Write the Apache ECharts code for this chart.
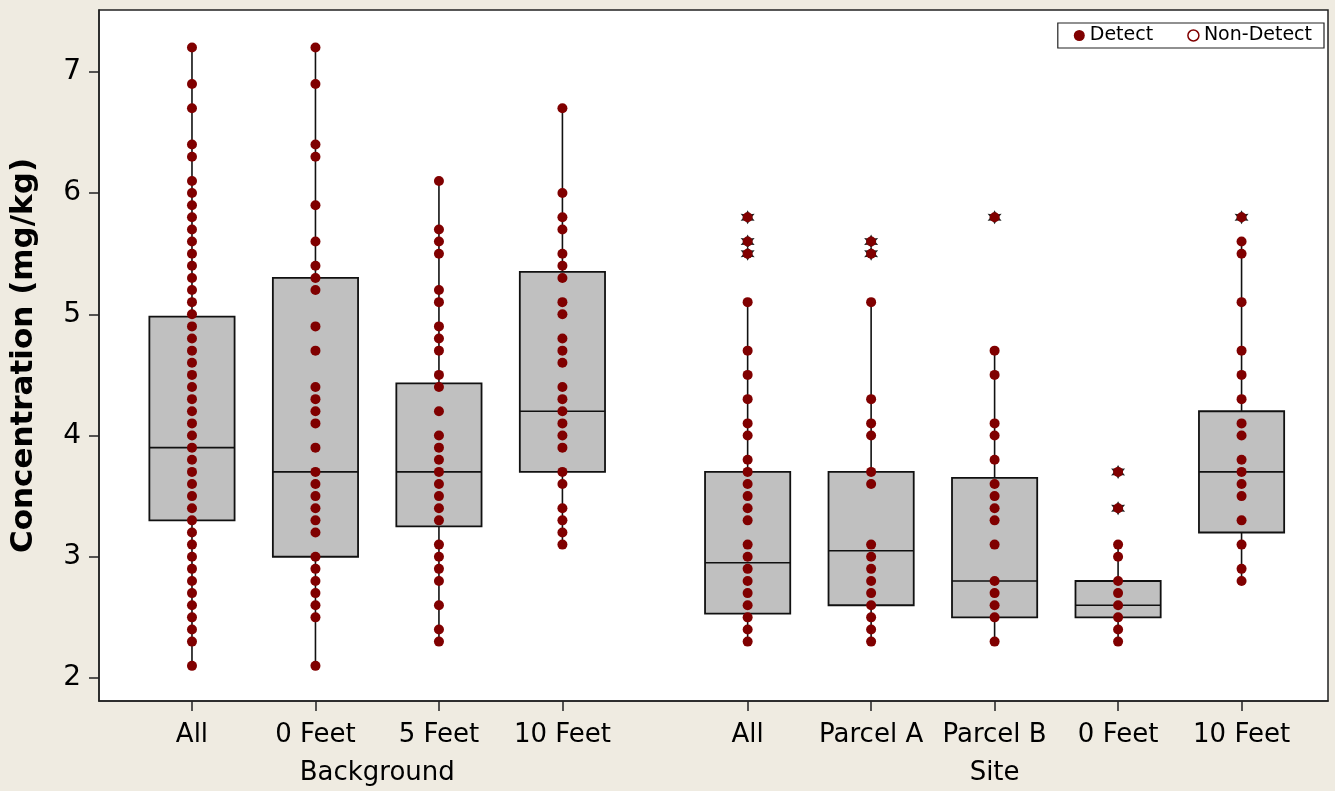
<!DOCTYPE html>
<html>
<head>
<meta charset="utf-8">
<title>Concentration box plot</title>
<script src="https://cdn.jsdelivr.net/npm/echarts@6/dist/echarts.min.js"></script>
<style>
  html, body { margin: 0; padding: 0; background: #efebe1; }
  #chart { width: 1335px; height: 791px; }
</style>
</head>
<body>
<div id="chart"></div>
<script>
// categories along the x axis and the two group titles
const categories = ["All", "0 Feet", "5 Feet", "10 Feet", "All", "Parcel A", "Parcel B", "0 Feet", "10 Feet"];
const groupNames = ["Background", "Site"];
const slots = [1, 2, 3, 4, 5.5, 6.5, 7.5, 8.5, 9.5];
const groupSlots = [2.5, 7.5];
const yTicks = [2, 3, 4, 5, 6, 7];

// detected values (dot plot) per category
const bgAll = [2.1, 2.3, 2.4, 2.5, 2.6, 2.7, 2.8, 2.9, 3.0, 3.1, 3.2, 3.3, 3.4, 3.5, 3.6, 3.7, 3.8, 3.9, 4.0, 4.1, 4.2, 4.3, 4.4, 4.5, 4.6, 4.7, 4.8, 4.9, 5.0, 5.1, 5.2, 5.3, 5.4, 5.5, 5.6, 5.7, 5.8, 5.9, 6.0, 6.1, 6.3, 6.4, 6.7, 6.9, 7.2];
const bg0 = [2.1, 2.5, 2.6, 2.7, 2.8, 2.9, 3.0, 3.2, 3.3, 3.4, 3.5, 3.6, 3.7, 3.9, 4.1, 4.2, 4.3, 4.4, 4.7, 4.9, 5.2, 5.3, 5.4, 5.6, 5.9, 6.3, 6.4, 6.9, 7.2];
const bg5 = [2.3, 2.4, 2.6, 2.8, 2.9, 3.0, 3.1, 3.3, 3.4, 3.5, 3.6, 3.7, 3.8, 3.9, 4.0, 4.2, 4.4, 4.5, 4.7, 4.8, 4.9, 5.1, 5.2, 5.5, 5.6, 5.7, 6.1];
const bg10 = [3.1, 3.2, 3.3, 3.4, 3.6, 3.7, 3.9, 4.0, 4.1, 4.2, 4.3, 4.4, 4.6, 4.7, 4.8, 5.0, 5.1, 5.3, 5.4, 5.5, 5.7, 5.8, 6.0, 6.7];
const siteAll = [2.3, 2.4, 2.5, 2.6, 2.7, 2.8, 2.9, 3.0, 3.1, 3.3, 3.4, 3.5, 3.6, 3.7, 3.8, 4.0, 4.1, 4.3, 4.5, 4.7, 5.1, 5.5, 5.6, 5.8];
const parcelA = [2.3, 2.4, 2.5, 2.6, 2.7, 2.8, 2.9, 3.0, 3.1, 3.6, 3.7, 4.0, 4.1, 4.3, 5.1, 5.5, 5.6];
const parcelB = [2.3, 2.5, 2.6, 2.7, 2.8, 3.1, 3.3, 3.4, 3.5, 3.6, 3.8, 4.0, 4.1, 4.5, 4.7, 5.8];
const site0 = [2.3, 2.4, 2.5, 2.6, 2.7, 2.8, 3.0, 3.1, 3.4, 3.7];
const site10 = [2.8, 2.9, 3.1, 3.3, 3.5, 3.6, 3.7, 3.8, 4.0, 4.1, 4.3, 4.5, 4.7, 5.1, 5.5, 5.6, 5.8];
const detects = [bgAll, bg0, bg5, bg10, siteAll, parcelA, parcelB, site0, site10];

// outliers (star marks) per category
const outliers = [[], [], [], [], [5.5, 5.6, 5.8], [5.5, 5.6], [5.8], [3.4, 3.7], [5.8]];

// box stats: [whisker low, Q1, median, Q3, whisker high]
const boxStats = [
  [2.1, 3.3, 3.9, 4.98, 7.2],
  [2.1, 3.0, 3.7, 5.3, 7.2],
  [2.3, 3.25, 3.7, 4.43, 6.1],
  [3.1, 3.7, 4.2, 5.35, 6.7],
  [2.3, 2.53, 2.95, 3.7, 5.1],
  [2.3, 2.6, 3.05, 3.7, 5.1],
  [2.3, 2.5, 2.8, 3.65, 4.7],
  [2.3, 2.5, 2.6, 2.8, 3.1],
  [2.8, 3.2, 3.7, 4.2, 5.6]
];

const RED = "#800000";
const FONT = "DejaVu Sans";
const STAR = "path://M0,-10 L2.6,-4.5 L8.7,-5 L5.2,0 L8.7,5 L2.6,4.5 L0,10 L-2.6,4.5 L-8.7,5 L-5.2,0 L-8.7,-5 L-2.6,-4.5 Z";

const slotIndex = (v, list) => list.findIndex((s) => Math.abs(s - v) < 1e-6);

const boxData = slots.map((s, i) => [s, ...boxStats[i]]);
const dotData = [];
detects.forEach((vals, i) => vals.forEach((v) => dotData.push([slots[i], v])));
const starData = [];
outliers.forEach((vals, i) => vals.forEach((v) => starData.push([slots[i], v])));

const renderBox = (params, api) => {
  const x = api.value(0);
  const pLow = api.coord([x, api.value(1)]);
  const pQ1 = api.coord([x, api.value(2)]);
  const pMed = api.coord([x, api.value(3)]);
  const pQ3 = api.coord([x, api.value(4)]);
  const pHigh = api.coord([x, api.value(5)]);
  const half = api.size([0.69, 0])[0] / 2;
  const line = { stroke: "#111", lineWidth: 1.6 };
  return {
    type: "group",
    children: [
      { type: "line", shape: { x1: pHigh[0], y1: pHigh[1], x2: pQ3[0], y2: pQ3[1] }, style: line },
      { type: "line", shape: { x1: pQ1[0], y1: pQ1[1], x2: pLow[0], y2: pLow[1] }, style: line },
      {
        type: "rect",
        shape: { x: pQ3[0] - half, y: pQ3[1], width: half * 2, height: pQ1[1] - pQ3[1] },
        style: { fill: "#c0c0c0", stroke: "#111", lineWidth: 1.8 }
      },
      { type: "line", shape: { x1: pMed[0] - half, y1: pMed[1], x2: pMed[0] + half, y2: pMed[1] }, style: line }
    ]
  };
};

const chart = echarts.init(document.getElementById("chart"));
chart.setOption({
  backgroundColor: "#efebe1",
  animation: false,
  textStyle: { fontFamily: FONT, color: "#000" },
  grid: {
    left: 98, right: 7, top: 10, bottom: 90,
    show: true, backgroundColor: "#fff", borderColor: "#222", borderWidth: 1.5
  },
  legend: {
    right: 11, top: 23,
    padding: [3, 12, 3, 16],
    itemGap: 34,
    itemWidth: 11, itemHeight: 11,
    borderColor: "#222", borderWidth: 1.2,
    backgroundColor: "#fff",
    textStyle: { fontFamily: FONT, fontSize: 19, color: "#000" },
    data: [
      { name: "Detect", icon: "circle" },
      { name: "Non-Detect", icon: "circle", itemStyle: { color: "#fff", borderColor: RED, borderWidth: 1.5, opacity: 1 } }
    ]
  },
  xAxis: [
    {
      type: "value", min: 0.247, max: 10.2,
      splitLine: { show: false },
      axisLine: { lineStyle: { color: "#222", width: 1.5 } },
      axisTick: { inside: false, length: 10, lineStyle: { color: "#222", width: 1.5 }, customValues: slots },
      axisLabel: {
        customValues: slots, margin: 21, fontSize: 26, color: "#000", fontFamily: FONT,
        formatter: (v) => categories[slotIndex(v, slots)] ?? ""
      }
    },
    {
      type: "value", min: 0.247, max: 10.2, position: "bottom",
      splitLine: { show: false }, axisLine: { show: false }, axisTick: { show: false },
      axisLabel: {
        customValues: groupSlots, margin: 59, fontSize: 26, color: "#000", fontFamily: FONT,
        formatter: (v) => groupNames[slotIndex(v, groupSlots)] ?? ""
      }
    }
  ],
  yAxis: {
    type: "value", min: 1.81, max: 7.51,
    name: "Concentration (mg/kg)",
    nameLocation: "middle", nameGap: 60,
    nameTextStyle: { fontFamily: FONT, fontSize: 31, fontWeight: "bold", color: "#000" },
    splitLine: { show: false },
    axisLine: { show: true, lineStyle: { color: "#222", width: 1.5 } },
    axisTick: { show: true, inside: false, length: 10, lineStyle: { color: "#222", width: 1.5 }, customValues: yTicks },
    axisLabel: { customValues: yTicks, margin: 18, fontSize: 28, color: "#000", fontFamily: FONT }
  },
  series: [
    {
      type: "custom", name: "box", xAxisIndex: 0,
      renderItem: renderBox,
      encode: { x: 0, y: [1, 2, 3, 4, 5] },
      data: boxData, z: 2, silent: true
    },
    {
      type: "scatter", name: "outlier", xAxisIndex: 0,
      symbol: STAR, symbolSize: 14,
      itemStyle: { color: "#222", opacity: 1 },
      data: starData, z: 3, silent: true
    },
    {
      type: "scatter", name: "Detect", xAxisIndex: 0,
      symbol: "circle", symbolSize: 10,
      itemStyle: { color: RED, opacity: 1 },
      data: dotData, z: 4
    },
    {
      type: "scatter", name: "Non-Detect", xAxisIndex: 0,
      symbol: "emptyCircle", symbolSize: 10,
      itemStyle: { color: RED, opacity: 1 },
      data: [], z: 4
    }
  ]
});
</script>
</body>
</html>
